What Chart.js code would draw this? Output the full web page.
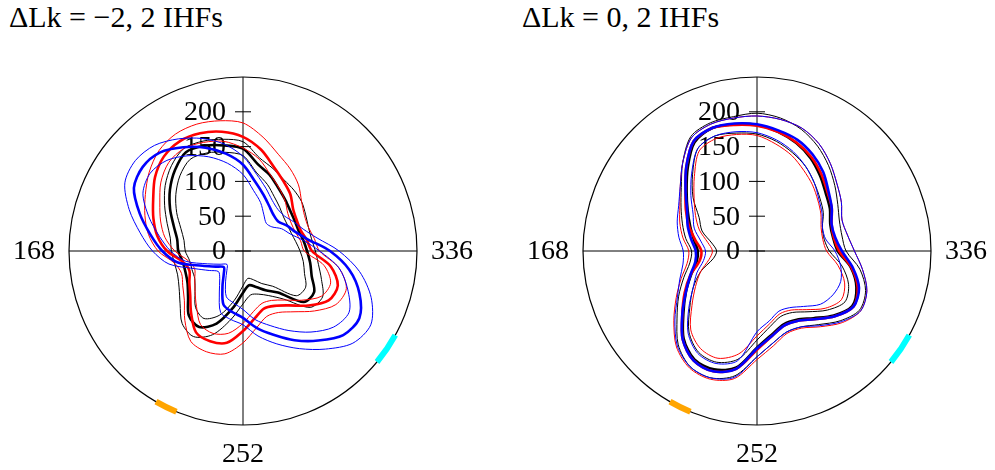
<!DOCTYPE html>
<html><head><meta charset="utf-8">
<script src="https://cdn.jsdelivr.net/npm/chart.js@4/dist/chart.umd.min.js"></script>
<style>
html,body{margin:0;padding:0;background:#fff;overflow:hidden;}
#wrap{position:relative;width:995px;height:470px;}
.title{position:absolute;top:0px;font-family:"Liberation Serif",serif;font-size:30px;color:#000;white-space:nowrap;}
.box{position:absolute;top:0;height:470px;}
</style></head><body>
<div id="wrap">
<div class="title" style="left:9px">ΔLk = −2, 2 IHFs</div>
<div class="title" style="left:522px">ΔLk = 0, 2 IHFs</div>
<div class="box" style="left:0;width:486px"><canvas id="c1"></canvas></div>
<div class="box" style="left:514px;width:481px"><canvas id="c2"></canvas></div>
</div>
<script>
// angles (degrees, counter-clockwise from the 336 mark on the right)
const angleDeg = [0,10,20,30,40,50,60,70,80,90,100,110,120,130,140,150,160,170,180,190,200,210,220,230,240,250,260,270,280,290,300,310,320,330,340,350];
const radialTicks = [0,50,100,150,200];
const angleTickBp = [168,252,336];
const circleBp = 336;
const cyanArcBp = [299,309];
const orangeArcBp = [224,231];

// Left panel: dLk = -2
const L_black = [92,88,85,86,89,95,103,115,126,147,154,161,164,152,137,121,106,96,93,88,88,92,103,121,126,111,83,60,50,55,65,78,114,118,105,98];
const L_blackOut = [104,100,100,104,110,114,118,126,136,157,163,168,170,160,146,130,116,106,103,100,100,106,118,136,142,128,100,76,64,66,74,90,126,132,120,110];
const L_blackIn = [82,77,74,74,76,82,90,102,114,137,144,150,152,141,126,110,95,86,83,78,78,80,90,106,112,98,72,50,40,44,54,66,100,104,94,88];
const L_red = [99,93,88,89,94,106,116,129,148,164,174,180,182,177,165,149,137,125,109,88,82,89,99,116,135,138,134,115,98,88,91,102,122,142,145,128];
const L_redOut = [110,104,100,102,110,124,136,148,166,184,190,194,194,188,176,162,150,138,122,100,94,100,110,130,150,154,150,132,112,100,102,114,134,154,158,140];
const L_redIn = [88,84,80,80,84,94,104,116,134,148,160,166,170,166,154,138,126,114,98,80,74,80,90,104,122,126,120,104,88,80,82,92,110,130,134,118];
const L_blue = [125,95,80,73,66,68,75,86,101,124,142,158,172,185,188,181,158,135,116,95,62,45,36,43,59,82,89,96,112,128,148,168,188,193,178,155];
const L_blueOut = [138,108,92,84,78,78,84,96,112,136,156,172,186,198,202,196,174,150,130,108,74,56,46,52,68,94,100,106,124,142,162,184,206,212,196,170];
const L_blueIn = [110,88,72,64,54,52,60,74,88,110,128,144,158,170,174,166,144,122,104,84,54,38,30,36,50,70,76,84,100,114,132,152,170,176,160,140];

// Right panel: dLk = 0
const R_black = [116,111,112,121,129,141,154,165,174,181,185,188,180,155,132,115,102,92,85,88,101,118,138,164,180,181,170,139,122,112,114,126,144,158,152,137];
const R_blackOut = [128,124,126,134,146,160,174,186,194,198,196,196,190,166,142,126,114,104,94,98,112,130,150,176,192,194,182,152,134,124,126,138,156,170,166,150];
const R_blackIn = [104,98,100,110,118,128,140,150,160,168,172,176,170,144,120,96,84,66,58,64,86,106,126,152,168,170,158,128,110,100,102,114,132,146,140,124];
const R_red = [118,112,114,124,132,144,156,166,174,180,184,188,182,158,134,118,104,90,80,84,102,120,140,166,182,184,172,142,124,114,116,128,146,160,154,138];
const R_redOut = [140,132,130,140,150,164,178,188,192,194,194,194,188,166,144,128,118,108,98,102,116,134,156,180,194,196,186,156,138,126,128,142,160,172,168,154];
const R_redIn = [100,96,98,106,114,124,134,146,156,166,170,172,166,140,118,102,88,72,64,70,86,102,122,148,162,164,150,122,106,96,98,110,128,140,134,118];
const R_blue = [122,114,114,124,134,148,160,170,176,182,186,188,182,158,134,116,106,96,88,90,102,118,140,166,182,184,172,140,124,114,116,128,146,160,156,140];
const R_blueOut = [140,132,130,140,150,164,178,188,192,194,194,194,188,166,144,130,122,114,106,108,118,132,154,178,192,194,184,152,134,124,126,140,158,172,168,154];
const R_blueIn = [112,100,100,108,116,128,140,152,162,170,174,176,170,146,124,106,96,82,74,78,92,106,128,154,170,172,160,116,102,92,94,104,119,126,128,122];

const N = angleDeg.length;
// radar index 0 is at the top and runs clockwise; map to counter-clockwise angles
const idx = i => ((N / 4 - i) % N + N) % N;
const toRadar = arr => angleDeg.map((_, i) => arr[idx(i)]);
const radarLabels = angleDeg.map((_, i) => angleDeg[idx(i)]);
const axisIdx = [0, N / 4, N / 2, 3 * N / 4];

function ds(arr, color, thick) {
  return { data: toRadar(arr), borderColor: color, borderWidth: thick ? 2.6 : 1, fill: false, pointRadius: 0, pointHoverRadius: 0, tension: 0.3 };
}

const FONT = '28px "Liberation Serif", serif';
const polarDecor = {
  id: 'polarDecor',
  beforeDatasetsDraw(chart) {
    const s = chart.scales.r, ctx = chart.ctx;
    ctx.save();
    ctx.strokeStyle = '#000'; ctx.lineWidth = 1; ctx.fillStyle = '#000';
    ctx.font = FONT; ctx.textAlign = 'right'; ctx.textBaseline = 'middle';
    radialTicks.forEach(v => {
      const y = s.yCenter - s.getDistanceFromCenterForValue(v);
      ctx.beginPath(); ctx.moveTo(s.xCenter - 8, y); ctx.lineTo(s.xCenter + 8, y); ctx.stroke();
      ctx.fillText(String(v), s.xCenter - 17, y + 1);
    });
    angleTickBp.forEach(bp => {
      const a = bp / circleBp * 2 * Math.PI;
      const c = Math.cos(a), sn = Math.sin(a);
      const R = s.drawingArea;
      if (Math.abs(c) > 0.5) {
        ctx.textAlign = c > 0 ? 'left' : 'right'; ctx.textBaseline = 'middle';
        ctx.fillText(String(bp), s.xCenter + (R + 14) * c, s.yCenter - (R + 14) * sn + 1);
      } else {
        ctx.textAlign = 'center'; ctx.textBaseline = sn < 0 ? 'top' : 'bottom';
        ctx.fillText(String(bp), s.xCenter + (R + 16) * c, s.yCenter - (R + 16) * sn);
      }
    });
    ctx.restore();
  },
  afterDatasetsDraw(chart) {
    const s = chart.scales.r, ctx = chart.ctx;
    ctx.save();
    ctx.lineWidth = 6; ctx.lineCap = 'butt';
    [[cyanArcBp, '#00ffff'], [orangeArcBp, '#ffa500']].forEach(([rg, col]) => {
      const a1 = rg[0] / circleBp * 2 * Math.PI, a2 = rg[1] / circleBp * 2 * Math.PI;
      ctx.strokeStyle = col;
      ctx.beginPath(); ctx.arc(s.xCenter, s.yCenter, s.drawingArea, -a2, -a1); ctx.stroke();
    });
    ctx.restore();
  }
};

function makePolar(id, sets, pad) {
  new Chart(document.getElementById(id), {
    type: 'radar',
    data: { labels: radarLabels, datasets: sets },
    options: {
      responsive: true, maintainAspectRatio: false, animation: false,
      layout: { padding: pad },
      plugins: { legend: { display: false }, tooltip: { enabled: false } },
      scales: { r: {
        min: 0, max: 250, startAngle: 0,
        ticks: { display: false, stepSize: 50 },
        pointLabels: { display: false },
        grid: { circular: true, lineWidth: 1.2, color: c => (c.tick && c.tick.value === 250) ? '#000' : 'rgba(0,0,0,0)' },
        angleLines: { lineWidth: 1, color: c => axisIdx.includes(c.index) ? '#000' : 'rgba(0,0,0,0)' }
      } }
    },
    plugins: [polarDecor]
  });
}

makePolar('c1', [
  ds(L_blue, '#0000ff', true), ds(L_blueOut, '#0000ff', false), ds(L_blueIn, '#0000ff', false),
  ds(L_red, '#ff0000', true), ds(L_redOut, '#ff0000', false), ds(L_redIn, '#ff0000', false),
  ds(L_black, '#000000', true), ds(L_blackOut, '#000000', false), ds(L_blackIn, '#000000', false)
], { left: 69, right: 69, top: 77, bottom: 45 });

makePolar('c2', [
  ds(R_blue, '#0000ff', true), ds(R_blueOut, '#0000ff', false), ds(R_blueIn, '#0000ff', false),
  ds(R_red, '#ff0000', true), ds(R_redOut, '#ff0000', false), ds(R_redIn, '#ff0000', false),
  ds(R_black, '#000000', true), ds(R_blackOut, '#000000', false), ds(R_blackIn, '#000000', false)
], { left: 69, right: 64, top: 77, bottom: 45 });
</script>
</body></html>
